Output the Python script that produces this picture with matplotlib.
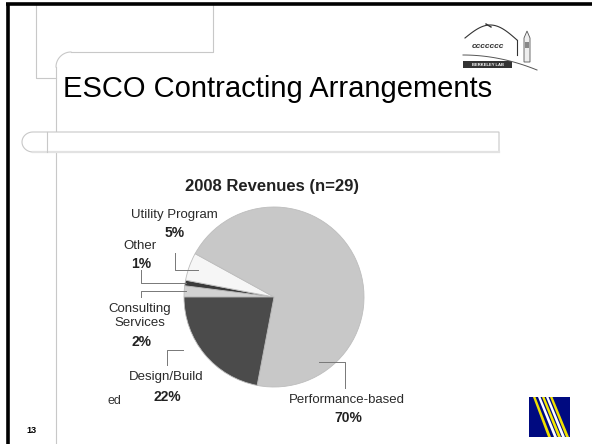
import numpy as np
import matplotlib
matplotlib.use('Agg')
from matplotlib import pyplot as plt
from matplotlib.patches import Rectangle, Polygon

plt.rcParams['font.family'] = ['Liberation Sans Narrow', 'Liberation Sans', 'DejaVu Sans']

# chart data
labels = ['Consulting\nServices', 'Other', 'Utility Program', 'Performance-based', 'Design/Build']
shares = [2, 1, 5, 70, 22]
colors = ['#d2d2d2', '#3a3a3a', '#f6f6f6', '#c8c8c8', '#4b4b4b']
chart_title = '2008 Revenues (n=29)'
slide_title = 'ESCO Contracting Arrangements'

# label layout in pie units (1 unit = 1 px): x, y of name, y of percent
label_pos = {
    'Consulting\nServices': (-134, -19, -45),
    'Other': (-134, 51, 33),
    'Utility Program': (-100, 82, 64),
    'Performance-based': (73, -103, -121),
    'Design/Build': (-108, -80, -100),
}
# leader: (fraction along wedge, radius fraction, elbow points)
leaders = {
    'Consulting\nServices': (0.5, 0.98, [(-133, None), (-133, 0)]),
    'Other': (0.5, 0.99, [(-133, None), (-133, 27)]),
    'Utility Program': (0.5, 0.9, [(-99, None), (-99, 44)]),
    'Performance-based': (0.18, 0.88, [(71, None), (71, -91)]),
    'Design/Build': (0.38, 1.17, [(-107, None), (-107, -68)]),
}

W, H = 592, 444
fig = plt.figure(figsize=(W / 100, H / 100), dpi=100, facecolor='white')

# slide background in pixel coords
bg = fig.add_axes([0, 0, 1, 1])
bg.set_xlim(0, W)
bg.set_ylim(H, 0)
bg.axis('off')

lc = '#c8c8c8'
bg.plot([36, 36, 56], [5, 78, 78], color=lc, lw=0.8)
bg.plot([213, 213, 71], [5, 52, 52], color=lc, lw=0.8)
t = np.linspace(np.pi / 2, np.pi, 30)
bg.plot(71 + 15 * np.cos(t), 67 - 15 * np.sin(t), color=lc, lw=0.8)
bg.plot([56, 56], [67, H], color=lc, lw=0.8)

# rounded bar
t = np.linspace(np.pi / 2, 3 * np.pi / 2, 30)
bx = np.concatenate([[499], 33 + 11 * np.cos(t), [499]])
by = np.concatenate([[132], 142 - 10 * np.sin(t), [152]])
bg.add_patch(Polygon(np.column_stack([bx, by]), closed=True, facecolor='white',
                     edgecolor=lc, lw=0.8, zorder=3))
bg.plot([33, 499], [152, 152], color='#e2e2e2', lw=1.6, zorder=4)
bg.plot([47, 47], [132, 152], color=lc, lw=0.8, zorder=4)

# black frame (top, left)
bg.plot([6, W], [4.5, 4.5], color='black', lw=2.6, solid_capstyle='butt')
bg.plot([7.5, 7.5], [3, H], color='black', lw=2.6, solid_capstyle='butt')

bg.text(63, 97, slide_title, fontsize=21, family=['Liberation Sans', 'DejaVu Sans'],
        color='black', va='baseline', ha='left')
bg.text(272, 191, chart_title, fontsize=12, fontweight='bold', color='#222222',
        ha='center', va='baseline', family=['Liberation Sans', 'DejaVu Sans'])
bg.text(31, 433, '13', fontsize=6.5, fontweight='bold', ha='center', va='baseline',
        family=['Liberation Sans', 'DejaVu Sans'])
bg.text(107, 404, 'ed', fontsize=9, color='#333333', ha='left', va='baseline')

# Berkeley Lab logo (simplified)
tt = np.linspace(0, 1, 30)
bg.plot(465 + 52 * tt, 38 - 14 * np.sin(np.pi * tt) + 2 * tt, color='#333333', lw=0.8)
bg.plot([486, 491], [24, 27], color='#333333', lw=1.0)
bg.text(488, 48, 'ccccccc', fontsize=6, style='italic', fontweight='bold', ha='center',
        va='baseline', color='#333333')
bg.plot([517, 517], [40, 55], color='#333333', lw=0.8)
bg.plot(463 + 74 * tt, 55 + 15 * tt ** 2, color='#555555', lw=0.7)
bg.add_patch(Rectangle((463, 61), 49, 7, facecolor='#333333', edgecolor='none'))
bg.text(487.5, 66.5, 'BERKELEY LAB', fontsize=3, color='white', ha='center', va='baseline',
        fontweight='bold')
bg.add_patch(Polygon([[524, 62], [524, 38], [527, 31], [530, 38], [530, 62]], closed=True,
                     facecolor='#eeeeee', edgecolor='#555555', lw=0.6))
bg.add_patch(Rectangle((525, 42), 4, 6, facecolor='#888888', edgecolor='none'))

# bottom-right logo
sq = Rectangle((529, 397), 41, 40, facecolor='#000a80', edgecolor='none', zorder=2)
bg.add_patch(sq)
stripes = [(533, 548, '#f0e000'), (538, 554, '#ffffff'), (542, 558, '#f5e800'),
           (546, 562, '#ffffff'), (550, 566, '#f0e000')]
for x0, x1, c in stripes:
    p = Polygon([[x0, 397], [x0 + 2.5, 397], [x1 + 3, 437], [x1, 437]], closed=True,
                facecolor=c, edgecolor='none', zorder=3)
    bg.add_patch(p)
    p.set_clip_path(sq)

# pie: center at pixel (274, 297), radius 90
cx, cy, R = 274, 297, 90
ax = fig.add_axes([(cx - 150) / W, (H - cy - 150) / H, 300 / W, 300 / H])
wedges, _ = ax.pie(shares, colors=colors, startangle=180, counterclock=False, radius=R,
                   wedgeprops=dict(edgecolor='#bdbdbd', linewidth=0.6))
ax.set_xlim(-150, 150)
ax.set_ylim(-150, 150)
ax.set_aspect('auto')
ax.axis('off')
ax.patch.set_alpha(0)

for w, lab, v in zip(wedges, labels, shares):
    f, rf, elbow = leaders[lab]
    ang = np.deg2rad(w.theta1 + f * (w.theta2 - w.theta1))
    x0, y0 = rf * R * np.cos(ang), rf * R * np.sin(ang)
    xs, ys = [x0], [y0]
    for ex, ey in elbow:
        xs.append(ex)
        ys.append(y0 if ey is None else ey)
    ax.plot(xs, ys, color='#777777', lw=0.7)
    lx, ly, py = label_pos[lab]
    ax.text(lx, ly, lab, fontsize=9.5, color='#2a2a2a', ha='center', va='center',
            linespacing=1.15)
    ax.text(lx + 1, py, f'{v}%', fontsize=10, fontweight='bold', color='#222222',
            ha='center', va='center')

fig.savefig('out.png', dpi=100, facecolor='white')
